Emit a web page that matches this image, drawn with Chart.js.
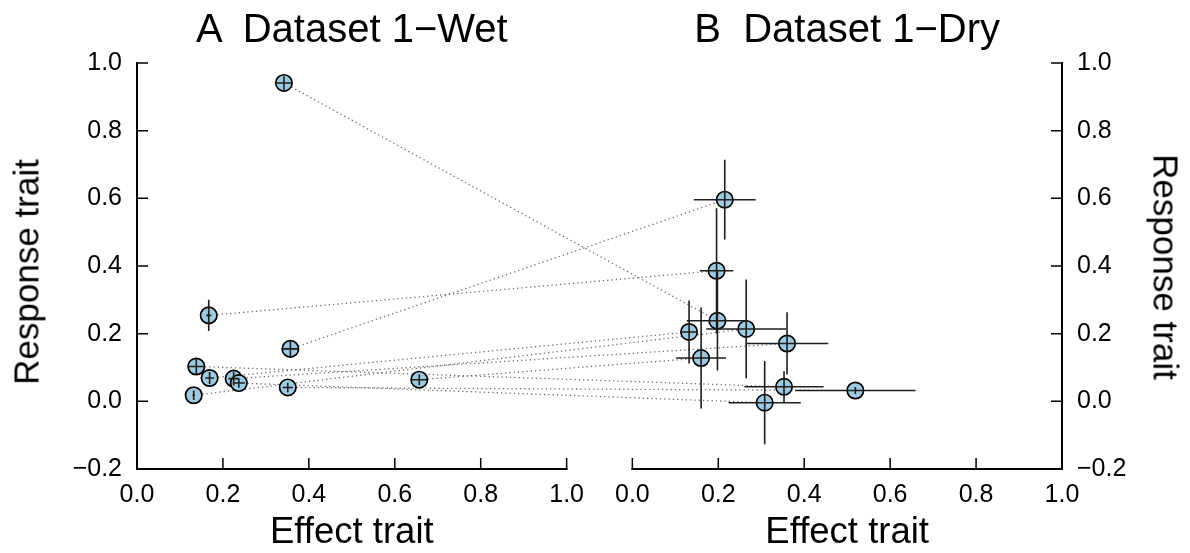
<!DOCTYPE html>
<html>
<head>
<meta charset="utf-8">
<script src="https://cdn.jsdelivr.net/npm/chart.js@4.4.1/dist/chart.umd.min.js"></script>
<style>
  html, body { margin: 0; padding: 0; background: #fff; }
  #wrap { position: relative; width: 1190px; height: 553px; font-family: 'Liberation Sans', Arial, sans-serif; }
  canvas { position: absolute; left: 0; top: 0; }
  .label { position: absolute; color: #000; white-space: pre; line-height: 1; transform: translateX(-50%); }
  .panel-title { font-size: 40px; top: 8px; }
  .axis-title { font-size: 36.5px; top: 513px; }
  .y-title { font-size: 35px; }
  #yTitleLeft { left: 26px; top: 272px; transform: translate(-50%, -50%) rotate(-90deg); }
  #yTitleRight { left: 1166px; top: 267px; transform: translate(-50%, -50%) rotate(90deg); }
</style>
</head>
<body>
<div id="wrap">
  <canvas id="traitChart" width="1190" height="553"></canvas>
  <div class="label panel-title" id="titleWet">A  Dataset 1−Wet</div>
  <div class="label panel-title" id="titleDry">B  Dataset 1−Dry</div>
  <div class="label axis-title" id="xTitleWet">Effect trait</div>
  <div class="label axis-title" id="xTitleDry">Effect trait</div>
  <div class="label y-title" id="yTitleLeft">Response trait</div>
  <div class="label y-title" id="yTitleRight">Response trait</div>
</div>
<script>
// Wet dataset (panel A): effect trait (x), response trait (y) and their errors
const wetX = [0.342, 0.167, 0.357, 0.138, 0.169, 0.225, 0.237, 0.351, 0.132, 0.657];
const wetY = [0.941, 0.254, 0.155, 0.103, 0.069, 0.067, 0.054, 0.041, 0.018, 0.064];
const wetXErr = [0.018, 0.006, 0.018, 0.02, 0.01, 0.012, 0.014, 0.012, 0.003, 0.018];
const wetYErr = [0.02, 0.046, 0.022, 0.022, 0.018, 0.02, 0.014, 0.014, 0.014, 0.016];

// Dry dataset (panel B), same species order as the wet arrays
const dryX = [0.198, 0.196, 0.215, 0.353, 0.132, 0.360, 0.308, 0.519, 0.265, 0.160];
const dryY = [0.238, 0.386, 0.596, 0.043, 0.205, 0.171, -0.004, 0.032, 0.214, 0.128];
const dryXErr = [0.0715, 0.039, 0.072, 0.092, 0.02, 0.096, 0.084, 0.14, 0.093, 0.058];
const dryYErr = [0.147, 0.185, 0.118, 0.046, 0.093, 0.092, 0.123, 0.01, 0.146, 0.149];

const xTicks = [0, 0.2, 0.4, 0.6, 0.8, 1.0];
const xTickLabels = ['0.0', '0.2', '0.4', '0.6', '0.8', '1.0'];
const yTicks = [-0.2, 0, 0.2, 0.4, 0.6, 0.8, 1.0];
const yTickLabels = ['\u22120.2', '0.0', '0.2', '0.4', '0.6', '0.8', '1.0'];

// both panels share one x scale; panel B is shifted right by 1 + gap
const GAP = 0.153;
const DRY_SHIFT = 1 + GAP;
const FONT = "'Liberation Sans', Arial, sans-serif";

const connectorSets = wetX.map((x, i) => ({
  type: 'scatter',
  data: [{ x: x, y: wetY[i] }, { x: dryX[i] + DRY_SHIFT, y: dryY[i] }],
  showLine: true,
  borderColor: '#6e6e6e',
  borderWidth: 1.3,
  borderDash: [1.3, 3],
  pointRadius: 0,
  order: 2
}));

const pointStyle = {
  pointRadius: 8.2,
  pointBackgroundColor: '#9ecae1',
  pointBorderColor: '#000',
  pointBorderWidth: 1.7,
  showLine: false,
  order: 1
};

const wetPoints = Object.assign({
  data: wetX.map((x, i) => ({ x: x, y: wetY[i] }))
}, pointStyle);

const dryPoints = Object.assign({
  data: dryX.map((x, i) => ({ x: x + DRY_SHIFT, y: dryY[i] }))
}, pointStyle);

// error bars drawn over the points
const errorBars = {
  id: 'errorBars',
  afterDatasetsDraw(chart) {
    const { ctx, scales: { x, y } } = chart;
    ctx.save();
    ctx.strokeStyle = '#1e1e1e';
    ctx.lineWidth = 1.6;
    const draw = (xs, ys, xe, ye, shift) => {
      xs.forEach((v, i) => {
        const px = x.getPixelForValue(v + shift);
        const py = y.getPixelForValue(ys[i]);
        ctx.beginPath();
        ctx.moveTo(x.getPixelForValue(v + shift - xe[i]), py);
        ctx.lineTo(x.getPixelForValue(v + shift + xe[i]), py);
        ctx.moveTo(px, y.getPixelForValue(ys[i] - ye[i]));
        ctx.lineTo(px, y.getPixelForValue(ys[i] + ye[i]));
        ctx.stroke();
      });
    };
    draw(wetX, wetY, wetXErr, wetYErr, 0);
    draw(dryX, dryY, dryXErr, dryYErr, DRY_SHIFT);
    ctx.restore();
  }
};

// R-style axes: L-shape for panel A, mirrored for panel B, inward ticks
const panelAxes = {
  id: 'panelAxes',
  afterDraw(chart) {
    const { ctx, scales: { x, y } } = chart;
    const tick = 11;
    const yBot = y.getPixelForValue(-0.2);
    const yTop = y.getPixelForValue(1.0);
    ctx.save();
    ctx.strokeStyle = '#000';
    ctx.lineCap = 'square';

    [0, DRY_SHIFT].forEach((shift, p) => {
      const x0 = x.getPixelForValue(shift);
      const x1 = x.getPixelForValue(shift + 1);
      const xSide = p === 0 ? x0 : x1;
      const dir = p === 0 ? 1 : -1;

      ctx.lineWidth = 2;
      ctx.beginPath();
      ctx.moveTo(x0, yBot);
      ctx.lineTo(x1, yBot);
      ctx.moveTo(xSide, yBot);
      ctx.lineTo(xSide, yTop);
      ctx.stroke();

      ctx.lineWidth = 1.5;
      ctx.lineCap = 'butt';
      ctx.beginPath();
      xTicks.forEach(v => {
        const px = x.getPixelForValue(v + shift);
        ctx.moveTo(px, yBot);
        ctx.lineTo(px, yBot - tick);
      });
      yTicks.forEach(v => {
        const py = y.getPixelForValue(v);
        ctx.moveTo(xSide, py);
        ctx.lineTo(xSide + dir * tick, py);
      });
      ctx.stroke();
      ctx.lineCap = 'square';
    });
    ctx.restore();
  }
};

const yAxis = (position, width) => ({
  position: position,
  min: -0.2,
  max: 1.0,
  afterBuildTicks: s => { s.ticks = yTicks.map(v => ({ value: v })); },
  ticks: {
    callback: (v, i) => yTickLabels[i],
    font: { family: FONT, size: 25 },
    color: '#000',
    padding: 15
  },
  grid: { display: false, drawTicks: false },
  border: { display: false },
  afterFit: s => { s.width = width; }
});

const chart = new Chart(document.getElementById('traitChart'), {
  type: 'scatter',
  data: { datasets: [wetPoints, dryPoints, ...connectorSets] },
  options: {
    responsive: false,
    animation: false,
    layout: { padding: { top: 63, left: 0, right: 0, bottom: 0 } },
    plugins: { legend: { display: false }, tooltip: { enabled: false } },
    scales: {
      x: {
        type: 'linear',
        min: 0,
        max: DRY_SHIFT + 1,
        afterBuildTicks: s => {
          s.ticks = xTicks.map(v => ({ value: v })).concat(xTicks.map(v => ({ value: v + DRY_SHIFT })));
        },
        ticks: {
          callback: (v, i) => xTickLabels[i % xTickLabels.length],
          font: { family: FONT, size: 25 },
          color: '#000',
          padding: 11,
          maxRotation: 0,
          autoSkip: false
        },
        grid: { display: false, drawTicks: false },
        border: { display: false },
        afterFit: s => { s.height = 84; }
      },
      y: yAxis('left', 137),
      y2: yAxis('right', 128)
    }
  },
  plugins: [errorBars, panelAxes]
});

// centre the html titles on each panel
const sx = chart.scales.x;
document.getElementById('titleWet').style.left = sx.getPixelForValue(0.5) + 'px';
document.getElementById('xTitleWet').style.left = sx.getPixelForValue(0.5) + 'px';
document.getElementById('titleDry').style.left = sx.getPixelForValue(DRY_SHIFT + 0.5) + 'px';
document.getElementById('xTitleDry').style.left = sx.getPixelForValue(DRY_SHIFT + 0.5) + 'px';
</script>
</body>
</html>
